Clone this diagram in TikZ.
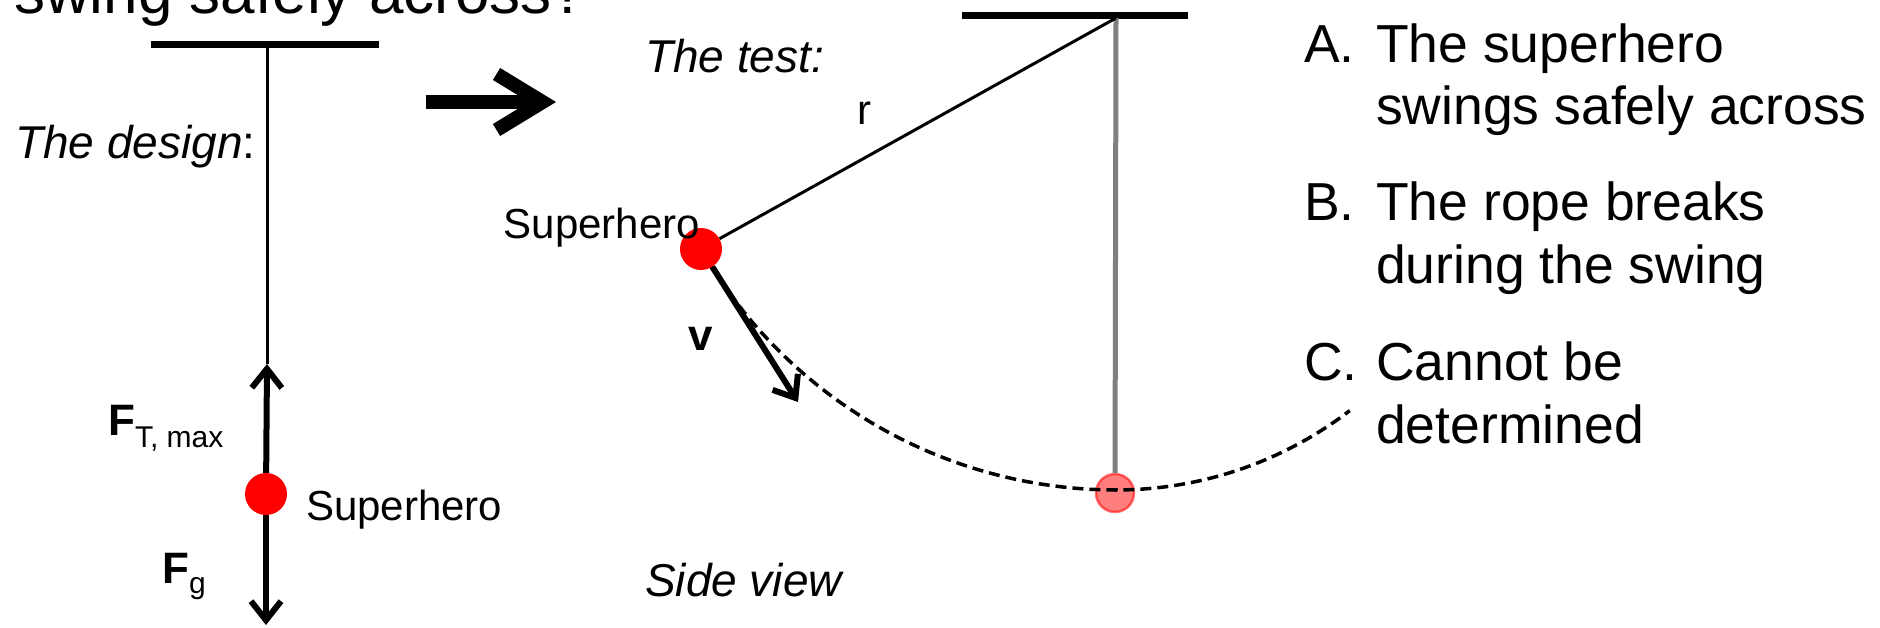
\documentclass[tikz,border=0pt]{standalone}
\usepackage{fontspec}
\setmainfont{Liberation Sans}
\usepackage{xcolor}
\usepackage{tikz}
\usetikzlibrary{arrows.meta}
\definecolor{heroRed}{HTML}{FF0000}
\definecolor{ropeGray}{HTML}{808080}
\newcommand\fsz[1]{\fontsize{#1}{#1}\selectfont}
\tikzset{
  hero/.style={circle, fill=heroRed, minimum size=42pt, inner sep=0pt},
  ghost/.style={circle, fill=heroRed, fill opacity=0.5, draw=heroRed,
                draw opacity=0.55, line width=2.5pt, minimum size=38pt, inner sep=0pt},
  bar/.style={line width=7pt},
  rope/.style={line width=3pt},
  force/.style={line width=6pt, -{Straight Barb[length=19pt, width=30pt]}},
  swingpath/.style={line width=3.5pt, dash pattern=on 11pt off 6pt},
  lbl/.style={inner sep=0pt, anchor=base west, font=\fsz{42}},
  caption/.style={inner sep=0pt, anchor=base west, font=\fsz{46}\itshape},
  ans/.style={inner sep=0pt, anchor=base west, font=\fsz{53.5}},
}

\begin{document}
\begin{tikzpicture}[x=1pt, y=-1pt]
  \fill[white] (0,0) rectangle (1880,627);
  \useasboundingbox (0,0) rectangle (1880,627);

  % question (cut at the top)
  \node[inner sep=0pt, anchor=base west, font=\fsz{62}] (question) at (14,13) {swing safely across?};

  % the design
  \coordinate (hookL) at (267,44);
  \coordinate (ftip) at (267,364);
  \coordinate (gtip) at (266,625);
  \draw[bar] (151,44) -- (379,44);
  \draw[rope] (hookL) -- (ftip);
  \node[hero] (hero1) at (266,494) {};
  \draw[force] (hero1) -- (ftip);
  \draw[force] (hero1) -- (gtip);
  \node[caption] (design) at (15,158) {The design\upshape:};
  \node[lbl] (heroL) at (306,520) {Superhero};
  \node[inner sep=0pt, anchor=base west, font=\fsz{44}] (fmax) at (108,435)
    {\bfseries F\raisebox{-12pt}{\mdseries\fsz{30}T, max}};
  \node[inner sep=0pt, anchor=base west, font=\fsz{44}] (fg) at (162,583)
    {\bfseries F\raisebox{-10pt}{\mdseries\fsz{30}g}};

  % design -> test
  \coordinate (nextA) at (426,102);
  \coordinate (nextB) at (556,102);
  \draw[line width=14pt, -{Straight Barb[length=46pt, width=56pt]}] (nextA) -- (nextB);

  % the test
  \coordinate (pivot) at (1116,18);
  \coordinate (vtip) at (798,402);
  \draw[bar] (962,15) -- (1188,15);
  \node[ghost] (ghost) at (1115,493) {};
  \draw[ropeGray, line width=5pt] (pivot) -- (ghost);
  \draw[swingpath]
    plot[domain=-60.25:0, samples=40] ({1116+478*sin(\x)}, {12+478*cos(\x)})
    -- plot[domain=0:37.5, samples=30] ({1116+384*sin(\x)}, {106+384*cos(\x)});
  \node[hero] (hero2) at (701,249) {};
  \draw[rope] (pivot) -- (hero2);
  \draw[force] (hero2) -- (vtip);
  \node[lbl, anchor=base east] (heroM) at (700,238) {Superhero};
  \node[lbl] (rlen) at (857,124) {r};
  \node[inner sep=0pt, anchor=base, font=\fsz{44}\bfseries] (vel) at (701,350) {v};
  \node[caption] (test) at (645,72) {The test:};
  \node[caption] (side) at (645,596) {Side view};

  % answers
  \node[ans] (optA) at (1304,62) {A.};
  \node[ans] (optA1) at (1376,62) {The superhero};
  \node[ans] (optA2) at ([yshift=-62pt]optA1.base west) {swings safely across};
  \node[ans] (optB) at (1304,220) {B.};
  \node[ans] (optB1) at (1376,220) {The rope breaks};
  \node[ans] (optB2) at ([yshift=-63pt]optB1.base west) {during the swing};
  \node[ans] (optC) at (1304,380) {C.};
  \node[ans] (optC1) at (1376,380) {Cannot be};
  \node[ans] (optC2) at ([yshift=-63pt]optC1.base west) {determined};
\end{tikzpicture}
\end{document}
